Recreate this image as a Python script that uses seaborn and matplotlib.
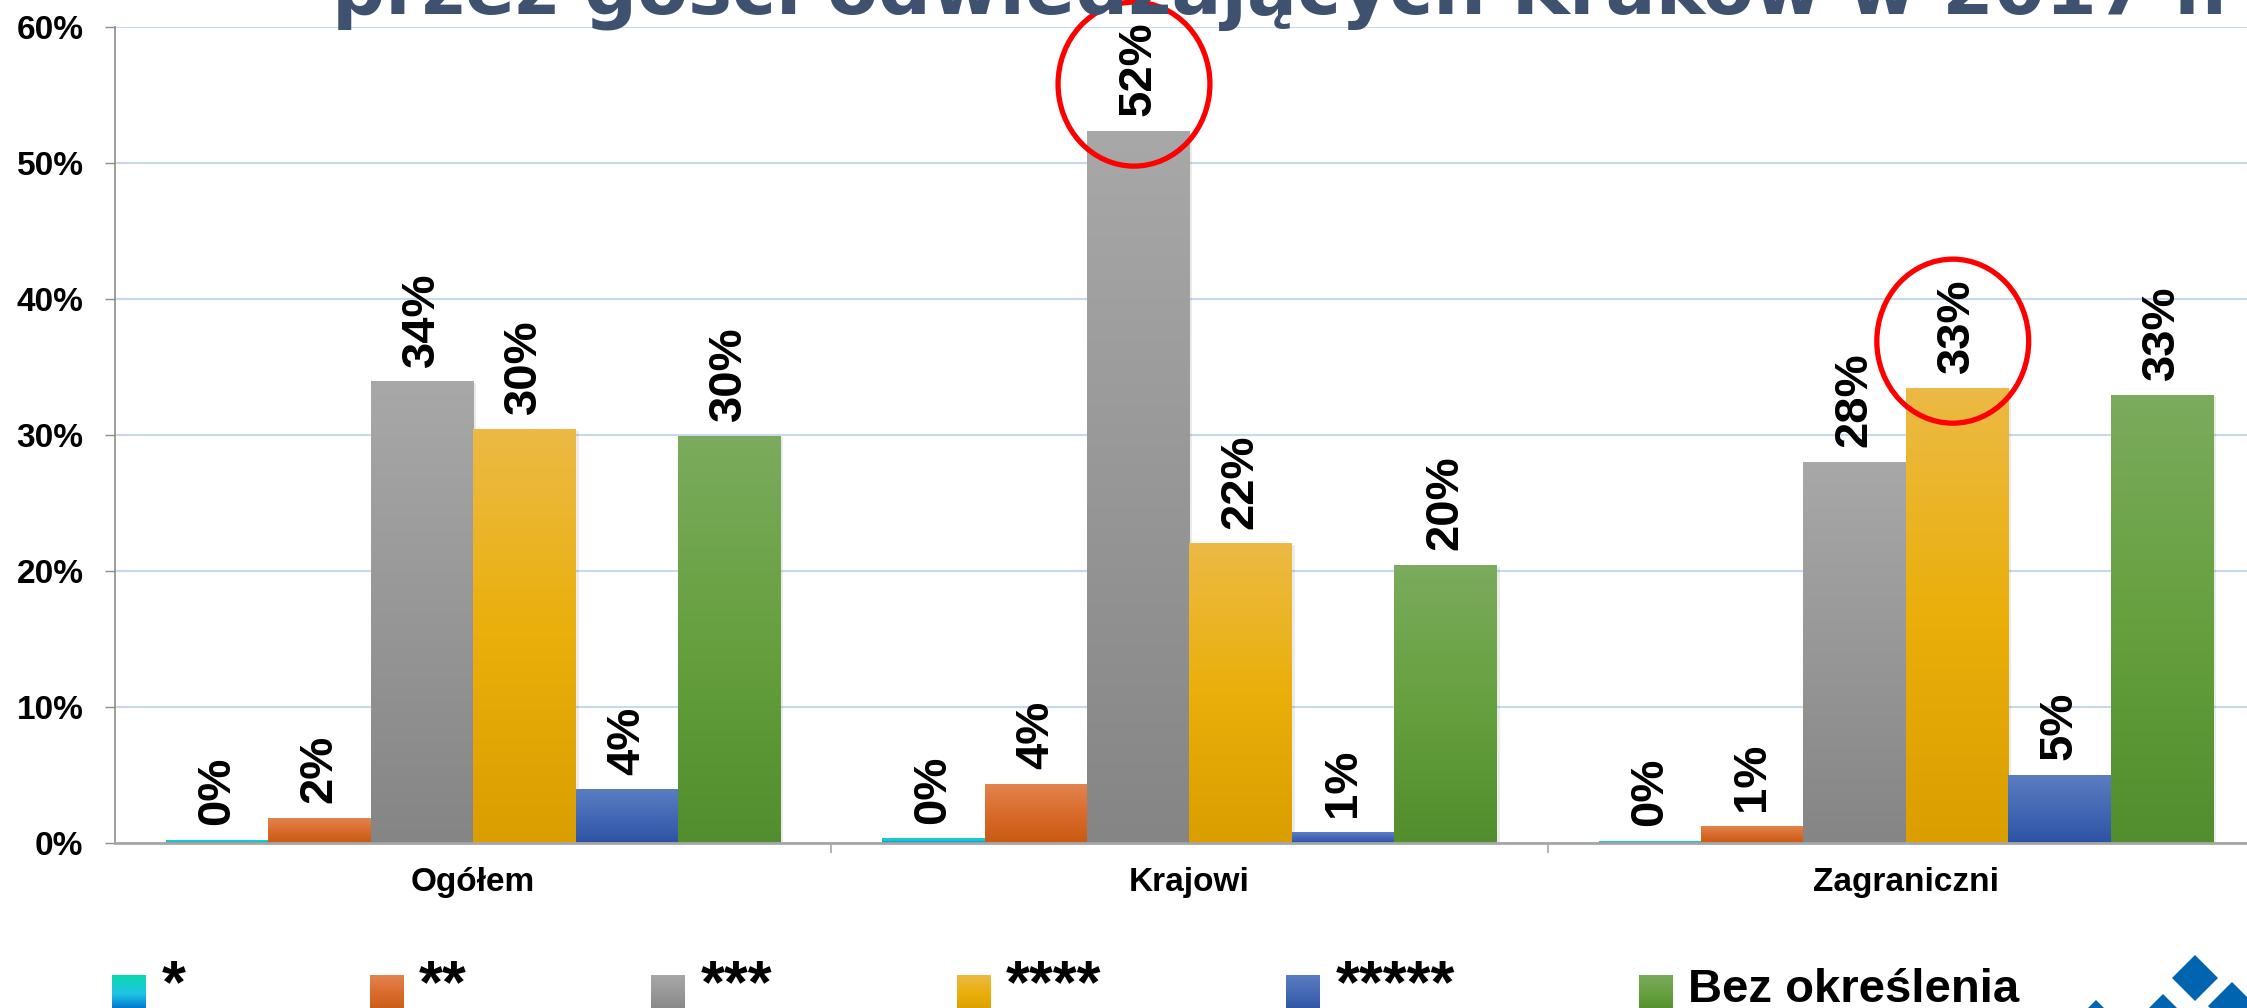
import numpy as np
import pandas as pd
import matplotlib
matplotlib.use("Agg")
import matplotlib.pyplot as plt
import matplotlib.transforms as mtransforms
from matplotlib.patches import Ellipse, Polygon, Rectangle
from matplotlib.colors import to_rgb
from matplotlib.ticker import PercentFormatter, FixedLocator
import seaborn as sns

# ---------------- data ----------------
categories = ["Ogółem", "Krajowi", "Zagraniczni"]
series_names = ["*", "**", "***", "****", "*****", "Bez określenia"]
share_1star = [0.002, 0.003, 0.001]
share_2star = [0.018, 0.043, 0.012]
share_3star = [0.339, 0.523, 0.280]
share_4star = [0.304, 0.220, 0.334]
share_5star = [0.039, 0.008, 0.050]
share_unspecified = [0.299, 0.204, 0.329]
highlighted = [("Krajowi", "***"), ("Zagraniczni", "****")]
y_ticks = [0.0, 0.1, 0.2, 0.3, 0.4, 0.5, 0.6]
title_text = "przez gości odwiedzających Kraków w 2017 r."

# ---------------- styles ----------------
grad_colors = {
    "*": ("#0BD8AE", "#1DC6E4", "#0063C9"),
    "**": ("#E2844F", "#D96B2C", "#C95A12"),
    "***": ("#A8A8A8", "#979797", "#858585"),
    "****": ("#ECBA45", "#EAAF0A", "#DA9E00"),
    "*****": ("#5C7DC2", "#4468B5", "#2C53A4"),
    "Bez określenia": ("#7BAB5D", "#66A03F", "#528E2D"),
}
palette = {s: grad_colors[s][1] for s in series_names}

values_by_series = [share_1star, share_2star, share_3star,
                    share_4star, share_5star, share_unspecified]
rows = []
for s, vals in zip(series_names, values_by_series):
    for cat, v in zip(categories, vals):
        rows.append({"Kategoria": cat, "Standard": s, "Udział": v})
df = pd.DataFrame(rows)

sns.set_style("white")
plt.rcParams["font.family"] = ["Liberation Sans", "DejaVu Sans"]
plt.rcParams["text.color"] = "black"
plt.rcParams["axes.labelcolor"] = "black"

W, H = 2247, 1008
fig = plt.figure(figsize=(W / 100, H / 100), dpi=100)
fig.patch.set_facecolor("white")
ax = fig.add_axes([115 / W, 165 / H, (2264 - 115) / W, 816 / H])

sns.barplot(data=df, x="Kategoria", y="Udział", hue="Standard",
            order=categories, hue_order=series_names, palette=palette,
            width=0.858, saturation=1, errorbar=None, legend=False,
            linewidth=0, ax=ax)


def grad_array(top, mid, bot, n=256):
    t = np.linspace(0, 1, n)[:, None]
    c0, c1, c2 = (np.array(to_rgb(c)) for c in (top, mid, bot))
    arr = np.where(t < 0.5, c0 + (c1 - c0) * (t / 0.5),
                   c1 + (c2 - c1) * ((t - 0.5) / 0.5))
    return arr.reshape(n, 1, 3)


shadow_tr = mtransforms.offset_copy(ax.transData, fig=fig, x=3, y=-1, units="dots")
for i, cont in enumerate(ax.containers):
    s = series_names[i]
    g = grad_array(*grad_colors[s])
    for p in cont.patches:
        x, w, h = p.get_x(), p.get_width(), p.get_height()
        ax.add_patch(Rectangle((x, 0), w, h, transform=shadow_tr, fc="black",
                               alpha=0.08, lw=0, zorder=p.get_zorder() - 0.05))
        ax.imshow(g, extent=(x, x + w, 0, h), aspect="auto", origin="upper",
                  zorder=p.get_zorder() + 0.01, interpolation="bilinear")
    ax.bar_label(cont, fmt=lambda v: f"{v:.0%}", padding=11, rotation=90,
                 fontsize=34, fontweight="bold", color="black", zorder=5)

for cat, s in highlighted:
    p = ax.containers[series_names.index(s)].patches[categories.index(cat)]
    cx = p.get_x() + p.get_width() / 2 - 0.006
    cy = p.get_height() + 0.035
    ax.add_patch(Ellipse((cx, cy), 0.212, 0.1206, fill=False, ec="#FF0000",
                         lw=3.8, clip_on=False, zorder=6))

ax.set_xlim(-0.5, 2.5)
ax.set_ylim(0, 0.6)
ax.set_yticks(y_ticks)
ax.yaxis.set_major_formatter(PercentFormatter(1, decimals=0))
ax.set_xlabel("")
ax.set_ylabel("")
ax.yaxis.grid(True, color="#C6D9EF", lw=1.5)
ax.xaxis.grid(False)
ax.set_axisbelow(True)
for sp in ["top", "right"]:
    ax.spines[sp].set_visible(False)
ax.spines["left"].set_color("#8C8C8C")
ax.spines["left"].set_linewidth(1.2)
ax.spines["bottom"].set_color("#A6A6A6")
ax.spines["bottom"].set_linewidth(2)
ax.tick_params(axis="y", length=7.2, width=1, color="#8C8C8C", pad=15.5,
               labelsize=24, left=True, labelcolor="black")
ax.tick_params(axis="x", which="major", length=0, pad=17, labelsize=24,
               labelcolor="black")
ax.xaxis.set_minor_locator(FixedLocator([0.5, 1.5]))
ax.tick_params(axis="x", which="minor", length=7.2, width=1.2, color="#A6A6A6",
               bottom=True, direction="out")
for lab in ax.get_yticklabels() + ax.get_xticklabels():
    lab.set_fontweight("bold")

# title (cut off at the top of the slide, as in the source)
title = fig.text(332 / W, 1 - 14 / H, title_text, fontsize=50, fontweight="bold",
                 color="#3E5270", family="DejaVu Sans", va="baseline", ha="left")
renderer = fig.canvas.get_renderer()
probe = fig.text(0, 0, title_text[:-1], fontsize=50, fontweight="bold",
                 family="DejaVu Sans")
pw = probe.get_window_extent(renderer).width
probe.remove()
title.set_fontsize(50 * 1882 / pw)

# legend
handles = [Rectangle((0, 0), 1, 1, fc=grad_colors[s][1], lw=0) for s in series_names]
leg = ax.legend(handles, series_names, ncol=6, loc="upper left",
                bbox_to_anchor=(112 / W, 1 - 958 / H), bbox_transform=fig.transFigure,
                frameon=False, prop={"size": 34, "weight": "bold"},
                handlelength=0.7, handleheight=0.7, handletextpad=0.35,
                columnspacing=3.9, borderpad=0, borderaxespad=0)
for t in leg.get_texts()[:5]:
    t.set_fontsize(44)
for t in leg.get_texts():
    t.set_color("black")

fig.canvas.draw()

ov = fig.add_axes([0, 0, 1, 1], zorder=10)
ov.set_xlim(0, W)
ov.set_ylim(0, H)
ov.axis("off")
ov.patch.set_alpha(0)
for s, lp in zip(series_names, leg.get_patches()):
    bb = lp.get_window_extent(renderer)
    lp.set_visible(False)
    ov.imshow(grad_array(*grad_colors[s]), extent=(bb.x0, bb.x1, -4, H - 975),
              aspect="auto", origin="upper", interpolation="bilinear")
ov.set_xlim(0, W)
ov.set_ylim(0, H)

# logo diamonds (bottom right)
logo_blue = "#0064B0"
for cx, cy, r in [(2195, H - 978, 23), (2232, H - 1006, 24),
                  (2163, H - 1016, 22), (2096, H - 1020, 20)]:
    ov.add_patch(Polygon([(cx, cy + r), (cx + r, cy), (cx, cy - r), (cx - r, cy)],
                         closed=True, fc=logo_blue, ec="none", clip_on=False))

fig.savefig("out.png", dpi=100)
